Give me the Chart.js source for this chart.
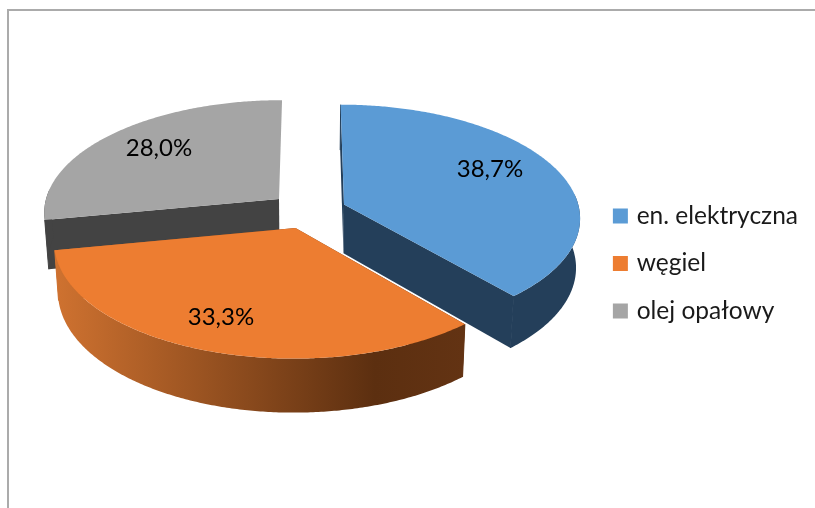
<!DOCTYPE html>
<html><head><meta charset="utf-8">
<style>html,body{margin:0;padding:0;background:#fff;overflow:hidden}canvas{display:block}</style>
<script src="https://cdn.jsdelivr.net/npm/chart.js@4/dist/chart.umd.min.js"></script>
</head><body><canvas id="c" width="815" height="508"></canvas>
<script>
const categories = ['en. elektryczna', 'węgiel', 'olej opałowy'];
const shares = [38.7, 33.3, 28.0];
const topColors = ['#5B9BD5', '#ED7D31', '#A5A5A5'];

// Look of the 3D pie (perspective view of the flat pie arcs)
const view = {cx: 310, cy: 210, rx: 235.5, ry: 112, p: 0.11, depth: 49, shrink: 0.985};
const apexes = [[344, 204.5], [295.5, 228], [279, 199]];
const wallColors = ['#243F5A', null, '#434343'];
const labelSpots = [[490, 169], [221, 317], [159, 148]];
const labelFont = '24px Lato, Carlito, sans-serif';

function project(x, y, z) {
  const f = 1 / (1 - view.p * y);
  const s = z ? view.shrink : 1;
  return [view.cx + view.rx * x * f * s, view.cy + view.ry * y * f + z * view.depth * (1 + 0.7 * (f - 1))];
}
function unproject(X, Y) {
  const g = Y - view.cy;
  const y = g / (view.ry + view.p * g);
  const f = 1 / (1 - view.p * y);
  return [(X - view.cx) / (view.rx * f), y];
}
function poly(ctx, pts) {
  ctx.beginPath();
  pts.forEach((p, i) => i ? ctx.lineTo(p[0], p[1]) : ctx.moveTo(p[0], p[1]));
  ctx.closePath();
  ctx.fill();
}
function seam(ctx, a, b) {
  ctx.beginPath();
  ctx.moveTo(a[0], a[1]);
  ctx.lineTo(b[0], b[1]);
  ctx.stroke();
}
const pie3d = {
  id: 'pie3d',
  beforeDraw(chart) {
    const ctx = chart.ctx;
    ctx.save();
    ctx.fillStyle = '#ababab';
    ctx.fillRect(7, 9, 808, 2);
    ctx.fillRect(7, 9, 2, 499);
    ctx.restore();
  },
  beforeDatasetDraw(chart) {
    const ctx = chart.ctx;
    const arcs = chart.getDatasetMeta(0).data;
    const grad = ctx.createLinearGradient(55, 0, 465, 0);
    grad.addColorStop(0, '#CF7230');
    grad.addColorStop(0.78, '#5C2F10');
    grad.addColorStop(1, '#633313');
    ctx.save();
    [2, 0, 1].forEach(i => {
      const a = arcs[i];
      const [ox, oy] = unproject(apexes[i][0], apexes[i][1]);
      const t0 = a.startAngle + Math.PI / 2, t1 = a.endAngle + Math.PI / 2;
      const n = Math.ceil((t1 - t0) / 0.01);
      const rim = [], front = [];
      for (let k = 0; k <= n; k++) {
        const t = t0 + (t1 - t0) * k / n;
        const q = [ox + Math.sin(t), oy - Math.cos(t)];
        rim.push(q);
        if (Math.cos(t) < 0.1) front.push(q);
      }
      const wall = i === 1 ? grad : wallColors[i];
      const top = rim.map(q => project(q[0], q[1], 0));
      const bot = rim.map(q => project(q[0], q[1], 1));
      const A0 = project(ox, oy, 0), A1 = project(ox, oy, 1);
      ctx.fillStyle = wall;
      ctx.strokeStyle = wall;
      ctx.lineWidth = 1;
      poly(ctx, [A0, top[0], bot[0], A1]);
      if (i !== 2) {
        poly(ctx, [A0, top[n], bot[n], A1]);
        seam(ctx, top[n], bot[n]);
      }
      poly(ctx, front.map(q => project(q[0], q[1], 0)).concat(front.map(q => project(q[0], q[1], 1)).reverse()));
      seam(ctx, top[0], bot[0]);
      ctx.fillStyle = topColors[i];
      poly(ctx, [A0].concat(top));
    });
    ctx.restore();
    return false;
  },
  afterDatasetsDraw(chart) {
    const ctx = chart.ctx;
    ctx.save();
    ctx.font = labelFont;
    ctx.fillStyle = '#000';
    ctx.textAlign = 'center';
    ctx.textBaseline = 'middle';
    shares.forEach((v, i) => {
      ctx.fillText(v.toFixed(1).replace('.', ',') + '%', labelSpots[i][0], labelSpots[i][1]);
    });
    ctx.restore();
  }
};

new Chart(document.getElementById('c'), {
  type: 'pie',
  plugins: [pie3d],
  data: {
    labels: categories,
    datasets: [{data: shares, backgroundColor: topColors, borderWidth: 0}]
  },
  options: {
    responsive: false,
    animation: false,
    events: [],
    layout: {padding: {top: 19, right: 7, bottom: 0, left: 0}},
    plugins: {
      tooltip: {enabled: false},
      legend: {
        position: 'right',
        labels: {
          usePointStyle: true,
          pointStyle: 'rect',
          boxWidth: 8,
          boxHeight: 15,
          padding: 23,
          color: '#1a1a1a',
          font: {family: 'Lato, Carlito, sans-serif', size: 24.5}
        }
      }
    }
  }
});
</script></body></html>
